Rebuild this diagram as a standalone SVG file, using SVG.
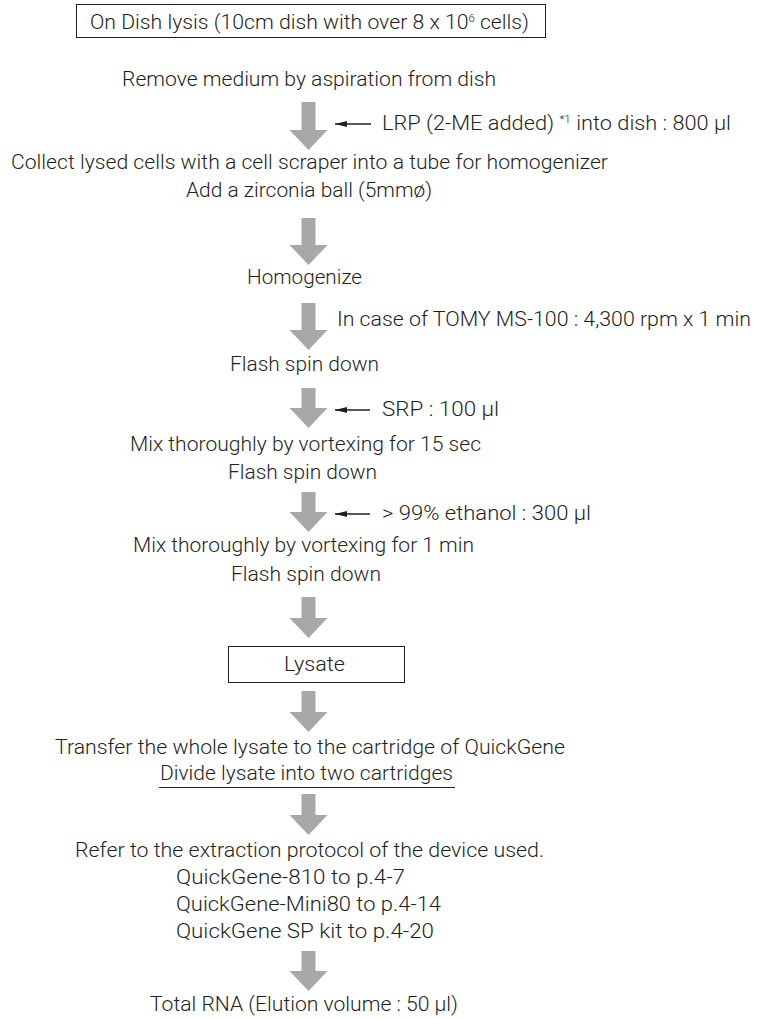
<svg xmlns="http://www.w3.org/2000/svg" width="763" height="1019" viewBox="0 0 763 1019">
  <defs>
    <!-- slim black arrowhead for the reagent feed lines -->
    <marker id="tip" viewBox="0 0 12 8" refX="0" refY="4" markerWidth="12" markerHeight="8" markerUnits="userSpaceOnUse" orient="auto">
      <path d="M0,4 L12,1 L12,7 Z" fill="#231f20"/>
    </marker>
  </defs>
  <style>
    text { font-family: Roboto, "Liberation Sans", Arial, sans-serif; font-weight: 300; font-size: 20.5px; fill: #231f20; }
    .box { fill: #ffffff; stroke: #231f20; stroke-width: 1; }
    .flow { fill: #a8a8a8; }
    .feed { stroke: #231f20; stroke-width: 1.3; fill: none; marker-start: url(#tip); }
    .sup { font-size: 11px; }
  </style>
  <rect width="763" height="1019" fill="#ffffff"/>

  <g id="start">
    <rect class="box" x="76.5" y="4.5" width="469" height="33"/>
    <text x="90" y="29" textLength="439" lengthAdjust="spacingAndGlyphs">On Dish lysis (10cm dish with over 8 x 10<tspan class="sup" dy="-7">6</tspan><tspan dy="7"> cells)</tspan></text>
  </g>

  <g id="remove-medium">
    <text x="122" y="86" textLength="374" lengthAdjust="spacingAndGlyphs">Remove medium by aspiration from dish</text>
  </g>

  <g id="collect">
    <text x="11" y="169" textLength="597" lengthAdjust="spacingAndGlyphs">Collect lysed cells with a cell scraper into a tube for homogenizer</text>
    <text x="186" y="197" textLength="246" lengthAdjust="spacingAndGlyphs">Add a zirconia ball (5mmø)</text>
  </g>

  <g id="homogenize">
    <text x="247" y="284" textLength="115" lengthAdjust="spacingAndGlyphs">Homogenize</text>
  </g>

  <g id="spin-1">
    <text x="230" y="371" textLength="149" lengthAdjust="spacingAndGlyphs">Flash spin down</text>
  </g>

  <g id="mix-15s">
    <text x="130" y="451" textLength="351" lengthAdjust="spacingAndGlyphs">Mix thoroughly by vortexing for 15 sec</text>
    <text x="228" y="479" textLength="149" lengthAdjust="spacingAndGlyphs">Flash spin down</text>
  </g>

  <g id="mix-1min">
    <text x="133" y="552" textLength="341" lengthAdjust="spacingAndGlyphs">Mix thoroughly by vortexing for 1 min</text>
    <text x="231" y="581" textLength="150" lengthAdjust="spacingAndGlyphs">Flash spin down</text>
  </g>

  <g id="lysate">
    <rect class="box" x="228.5" y="646.5" width="176" height="36"/>
    <text x="284" y="671" textLength="61" lengthAdjust="spacingAndGlyphs">Lysate</text>
  </g>

  <g id="transfer">
    <text x="55" y="754" textLength="510" lengthAdjust="spacingAndGlyphs">Transfer the whole lysate to the cartridge of QuickGene</text>
    <text x="160" y="780" textLength="293" lengthAdjust="spacingAndGlyphs">Divide lysate into two cartridges</text>
    <line x1="159" y1="787.5" x2="455" y2="787.5" stroke="#231f20" stroke-width="1"/>
  </g>

  <g id="extraction">
    <text x="75" y="857" textLength="469" lengthAdjust="spacingAndGlyphs">Refer to the extraction protocol of the device used.</text>
    <text x="176" y="884" textLength="229" lengthAdjust="spacingAndGlyphs">QuickGene-810 to p.4-7</text>
    <text x="176" y="911" textLength="265" lengthAdjust="spacingAndGlyphs">QuickGene-Mini80 to p.4-14</text>
    <text x="176" y="938" textLength="258" lengthAdjust="spacingAndGlyphs">QuickGene SP kit to p.4-20</text>
  </g>

  <g id="total-rna">
    <text x="150" y="1011" textLength="308" lengthAdjust="spacingAndGlyphs">Total RNA (Elution volume : 50 µl)</text>
  </g>

  <g id="connectors">
    <!-- grey block arrows: shaft 14 wide, head 38 wide, 20 tall -->
    <path class="flow" d="M301.5,102 H315.5 V130 H327.5 L308.5,150 L289.5,130 H301.5 Z"/>
    <path class="flow" d="M301.5,218 H315.5 V245 H327.5 L308.5,265 L289.5,245 H301.5 Z"/>
    <path class="flow" d="M301.5,303 H315.5 V330 H327.5 L308.5,350 L289.5,330 H301.5 Z"/>
    <path class="flow" d="M301.5,388 H315.5 V408 H327.5 L308.5,428 L289.5,408 H301.5 Z"/>
    <path class="flow" d="M301.5,492 H315.5 V512 H327.5 L308.5,532 L289.5,512 H301.5 Z"/>
    <path class="flow" d="M301.5,597 H315.5 V618 H327.5 L308.5,638 L289.5,618 H301.5 Z"/>
    <path class="flow" d="M301.5,691 H315.5 V712 H327.5 L308.5,732 L289.5,712 H301.5 Z"/>
    <path class="flow" d="M301.5,794 H315.5 V815 H327.5 L308.5,835 L289.5,815 H301.5 Z"/>
    <path class="flow" d="M301.5,951 H315.5 V971 H327.5 L308.5,991 L289.5,971 H301.5 Z"/>

    <line class="feed" x1="335" y1="124" x2="371" y2="124"/>
    <text x="382" y="130" textLength="349" lengthAdjust="spacingAndGlyphs">LRP (2-ME added) <tspan class="sup" dy="-7">*1</tspan><tspan dy="7"> into dish : 800 µl</tspan></text>

    <text x="337" y="326" textLength="414" lengthAdjust="spacingAndGlyphs">In case of TOMY MS-100 : 4,300 rpm x 1 min</text>

    <line class="feed" x1="335" y1="410" x2="370" y2="410"/>
    <text x="382" y="416" textLength="117" lengthAdjust="spacingAndGlyphs">SRP : 100 µl</text>

    <line class="feed" x1="335" y1="514" x2="370" y2="514"/>
    <text x="382" y="520" textLength="209" lengthAdjust="spacingAndGlyphs">&gt; 99% ethanol : 300 µl</text>
  </g>
</svg>
